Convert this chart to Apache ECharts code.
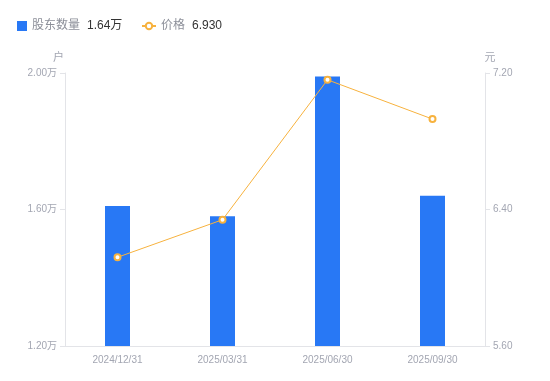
<!DOCTYPE html>
<html>
<head>
<meta charset="utf-8">
<script src="https://cdn.jsdelivr.net/npm/echarts@6/dist/echarts.min.js"></script>
<style>
  html, body { margin: 0; padding: 0; background: #fff; }
  #chart { width: 550px; height: 381px; }
</style>
</head>
<body>
<div id="chart"></div>
<script>
var dates = ['2024/12/31', '2025/03/31', '2025/06/30', '2025/09/30'];
// 股东数量 (户)
var holders = [16100, 15800, 19900, 16400];
// 价格 (元)
var prices = [6.12, 6.34, 7.16, 6.93];
var leftTicks = [12000, 20000, 4000];
var rightTicks = [5.6, 7.2, 0.8];

var chart = echarts.init(document.getElementById('chart'));

function wan(v) {
    return (v / 10000).toFixed(2) + '万';
}

var legendRich = {
    n: {color: '#8c8f99', fontSize: 12, padding: [0, 7, 0, 0]},
    v: {color: '#333', fontSize: 12}
};

var option = {
    textStyle: {
        fontFamily: 'Arial, "Liberation Sans", "Noto Sans CJK SC", sans-serif'
    },
    legend: [
        {
            left: 12,
            top: 15,
            itemWidth: 10,
            itemHeight: 10,
            data: [{name: '股东数量', icon: 'rect'}],
            formatter: function(name) {
                return '{n|' + name + '}{v|' + wan(holders[holders.length - 1]) + '}';
            },
            textStyle: {rich: legendRich}
        },
        {
            left: 136,
            top: 15,
            itemWidth: 14,
            itemHeight: 8,
            data: [{name: '价格'}],
            formatter: function(name) {
                return '{n|' + name + '}{v|' + prices[prices.length - 1].toFixed(3) + '}';
            },
            textStyle: {rich: legendRich}
        }
    ],
    grid: {
        left: 65,
        right: 65,
        top: 73,
        bottom: 35
    },
    xAxis: {
        type: 'category',
        data: dates,
        axisTick: {show: false},
        axisLine: {lineStyle: {color: '#e3e4e8'}},
        axisLabel: {color: '#a3a6b2', fontSize: 10, margin: 9}
    },
    yAxis: [
        {
            type: 'value',
            name: '户',
            nameGap: 10,
            nameTextStyle: {color: '#a3a6b2', fontSize: 11, padding: [0, 13, 0, 0]},
            min: leftTicks[0],
            max: leftTicks[1],
            interval: leftTicks[2],
            splitLine: {show: false},
            axisLine: {show: true, lineStyle: {color: '#e3e4e8'}},
            axisTick: {show: true, length: 5, lineStyle: {color: '#e3e4e8'}},
            axisLabel: {color: '#a3a6b2', fontSize: 10, formatter: wan}
        },
        {
            type: 'value',
            name: '元',
            nameGap: 10,
            nameTextStyle: {color: '#a3a6b2', fontSize: 11, padding: [0, 0, 0, 10]},
            min: rightTicks[0],
            max: rightTicks[1],
            interval: rightTicks[2],
            splitLine: {show: false},
            axisLine: {show: true, lineStyle: {color: '#e3e4e8'}},
            axisTick: {show: true, length: 5, lineStyle: {color: '#e3e4e8'}},
            axisLabel: {
                color: '#a3a6b2',
                fontSize: 10,
                formatter: function(v) { return v.toFixed(2); }
            }
        }
    ],
    series: [
        {
            name: '股东数量',
            type: 'bar',
            yAxisIndex: 0,
            barWidth: 25,
            itemStyle: {color: '#2878f5'},
            data: holders
        },
        {
            name: '价格',
            type: 'line',
            yAxisIndex: 1,
            symbol: 'emptyCircle',
            symbolSize: 6,
            itemStyle: {color: '#f7b23e', borderWidth: 2},
            lineStyle: {width: 1, color: '#f7b23e'},
            data: prices
        }
    ]
};

chart.setOption(option);
</script>
</body>
</html>
